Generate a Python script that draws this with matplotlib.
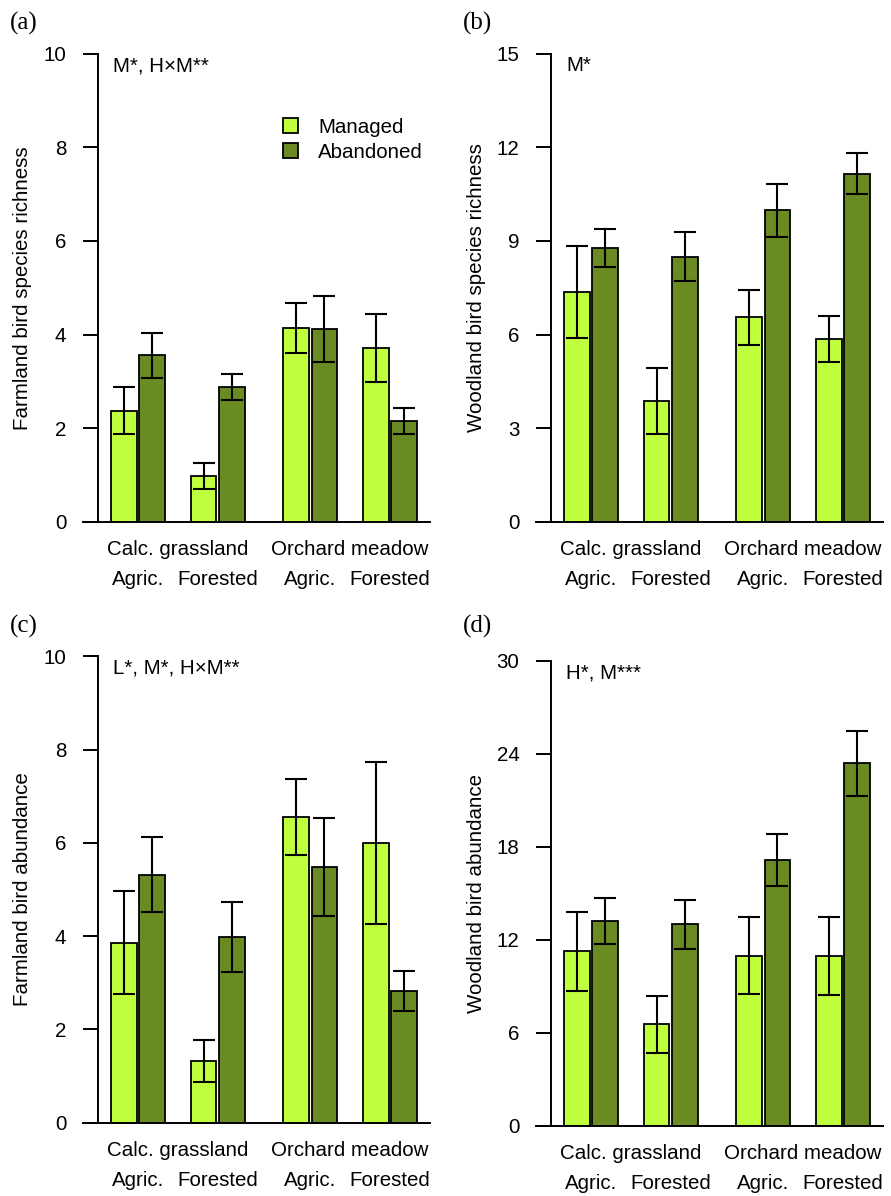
import matplotlib
matplotlib.use("Agg")
import matplotlib.pyplot as plt
import matplotlib.transforms as mtransforms
from matplotlib.patches import Patch
import numpy as np

# ---------------- data ----------------
groups = ["Agric.", "Forested", "Agric.", "Forested"]
habitats = ["Calc. grassland", "Orchard meadow"]
series = ["Managed", "Abandoned"]

a_managed = [2.37, 0.98, 4.14, 3.71]
a_managed_se = [0.50, 0.28, 0.53, 0.72]
a_abandoned = [3.56, 2.88, 4.12, 2.16]
a_abandoned_se = [0.48, 0.28, 0.71, 0.28]

b_managed = [7.36, 3.88, 6.56, 5.86]
b_managed_se = [1.47, 1.05, 0.88, 0.74]
b_abandoned = [8.78, 8.50, 9.99, 11.16]
b_abandoned_se = [0.60, 0.78, 0.85, 0.65]

c_managed = [3.86, 1.32, 6.56, 5.99]
c_managed_se = [1.11, 0.445, 0.82, 1.74]
c_abandoned = [5.32, 3.99, 5.48, 2.82]
c_abandoned_se = [0.80, 0.75, 1.05, 0.43]

d_managed = [11.25, 6.54, 10.97, 10.97]
d_managed_se = [2.53, 1.85, 2.47, 2.52]
d_abandoned = [13.21, 12.99, 17.14, 23.38]
d_abandoned_se = [1.51, 1.57, 1.70, 2.10]

panel_letters = ["(a)", "(b)", "(c)", "(d)"]
ylabels = ["Farmland bird species richness", "Woodland bird species richness",
           "Farmland bird abundance", "Woodland bird abundance"]
yticks_list = [[0, 2, 4, 6, 8, 10], [0, 3, 6, 9, 12, 15],
               [0, 2, 4, 6, 8, 10], [0, 6, 12, 18, 24, 30]]
stats_text = ["M*, H×M**", "M*", "L*, M*, H×M**", "H*, M***"]

col_managed = "#C0FF3E"
col_abandoned = "#698B22"

# ---------------- layout ----------------
W, H = 891, 1196
fig = plt.figure(figsize=(W / 100, H / 100), dpi=100)
plt.rcParams["font.family"] = ["Liberation Sans", "DejaVu Sans"]
FS = 14.8

# (left px, top px, right px, bottom px)
boxes = [(83, 53.7, 430, 521.7), (536, 53.8, 883, 521.8),
         (83, 656.5, 430, 1122.5), (536, 660.7, 883, 1125.7)]
letter_pos = [(10, 23), (463, 23), (10, 626), (463, 626)]
ylabel_right_px = [32, 486, 32, 486]

bw = 1.0
lefts_m = np.array([0.0, 3.1, 6.7, 9.8])
lefts_a = lefts_m + 1.1
xm = lefts_m + bw / 2
xa = lefts_a + bw / 2

data = [(a_managed, a_managed_se, a_abandoned, a_abandoned_se),
        (b_managed, b_managed_se, b_abandoned, b_abandoned_se),
        (c_managed, c_managed_se, c_abandoned, c_abandoned_se),
        (d_managed, d_managed_se, d_abandoned, d_abandoned_se)]

for i, (box, (m, mse, ab, abse)) in enumerate(zip(boxes, data)):
    l, t, r, b = box
    ax = fig.add_axes([l / W, 1 - b / H, (r - l) / W, (b - t) / H])
    ymax = yticks_list[i][-1]
    ax.set_xlim(-1.09, 12.41)
    ax.set_ylim(0, ymax)

    ax.bar(xm, m, width=bw, color=col_managed, edgecolor="black", linewidth=1.3, zorder=2)
    ax.bar(xa, ab, width=bw, color=col_abandoned, edgecolor="black", linewidth=1.3, zorder=2)
    ax.errorbar(xm, m, yerr=mse, fmt="none", ecolor="black", elinewidth=1.5,
                capsize=8, capthick=1.5, zorder=3, clip_on=False)
    ax.errorbar(xa, ab, yerr=abse, fmt="none", ecolor="black", elinewidth=1.5,
                capsize=8, capthick=1.5, zorder=3, clip_on=False)

    for s in ["top", "right"]:
        ax.spines[s].set_visible(False)
    ax.spines["left"].set_position(("data", -0.5))
    ax.spines["left"].set_bounds(0, ymax)
    ax.spines["left"].set_linewidth(1.4)
    ax.spines["bottom"].set_linewidth(1.4)
    ax.spines["bottom"].set_zorder(4)
    ax.set_yticks(yticks_list[i])
    ax.tick_params(axis="y", length=10.8, width=1.4, pad=12, labelsize=FS, direction="out")
    ax.set_xticks([])
    ax.set_ylabel(ylabels[i], fontsize=FS)
    ax.yaxis.set_label_coords((ylabel_right_px[i] - l) / (r - l), 0.5)

    # x labels
    trans = mtransforms.blended_transform_factory(ax.transData, ax.transAxes)
    h_px = b - t
    centers_grp = (xm + xa) / 2
    for g, cx in zip(groups, centers_grp):
        ax.text(cx, -58 / h_px, g, transform=trans, ha="center", va="center", fontsize=FS)
    for k, hab in enumerate(habitats):
        cx = (lefts_m[2 * k] + lefts_a[2 * k + 1] + bw) / 2
        ax.text(cx, -28 / h_px, hab, transform=trans, ha="center", va="center", fontsize=FS)

    # stats text
    ax.text(-0.5 + 15 / 25.7, 1 - 17.5 / h_px, stats_text[i], transform=trans,
            ha="left", va="baseline", fontsize=FS)

    # panel letter
    fig.text(letter_pos[i][0] / W, 1 - letter_pos[i][1] / H, panel_letters[i],
             family=["Liberation Serif", "DejaVu Serif"], fontsize=18, ha="left", va="center")

    if i == 0:
        handles = [Patch(facecolor=col_managed, edgecolor="black", linewidth=1.3),
                   Patch(facecolor=col_abandoned, edgecolor="black", linewidth=1.3)]
        ax.legend(handles, series, loc="upper left", frameon=False, fontsize=FS,
                  bbox_to_anchor=(283 / W, 1 - 118 / H), bbox_transform=fig.transFigure,
                  handlelength=0.72, handleheight=0.72, handletextpad=1.0,
                  labelspacing=0.27, borderpad=0, borderaxespad=0)

fig.savefig("out.png", dpi=100)
